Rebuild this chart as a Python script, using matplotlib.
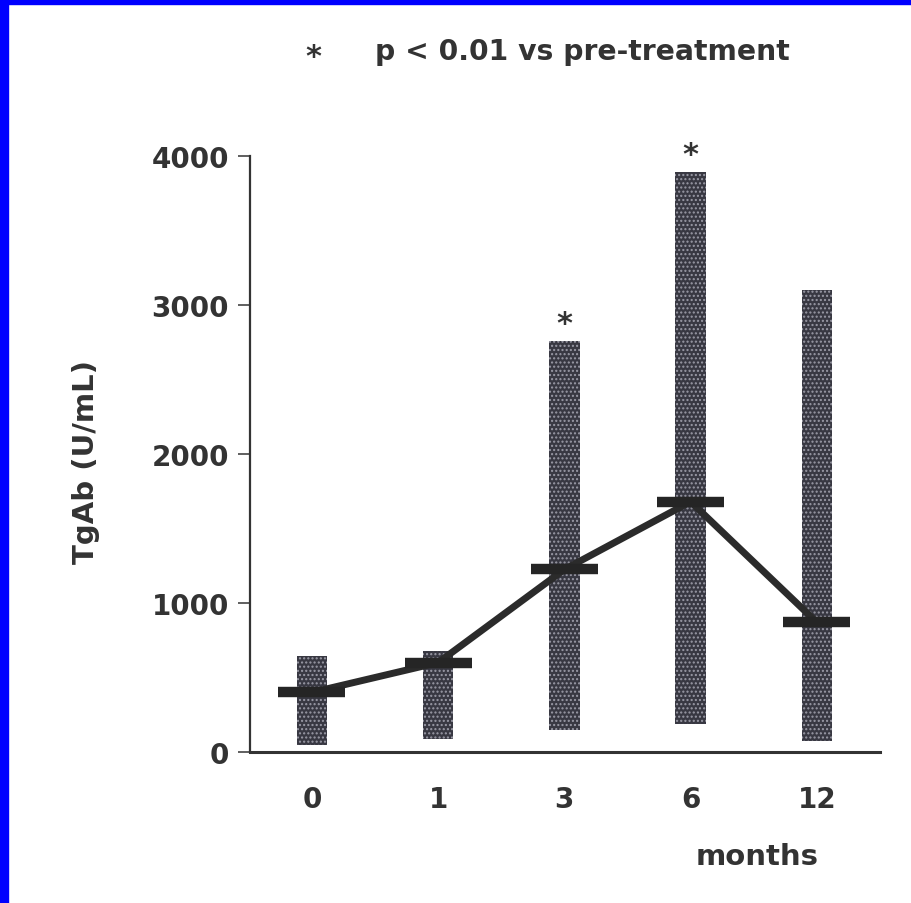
import matplotlib
matplotlib.use("Agg")
import matplotlib.pyplot as plt
from matplotlib.patches import Rectangle

# Data
months = ["0", "1", "3", "6", "12"]
range_low = [50, 85, 150, 185, 75]
range_high = [645, 680, 2760, 3890, 3100]
median = [400, 600, 1225, 1680, 870]
significant = [False, False, True, True, False]
y_ticks = [0, 1000, 2000, 3000, 4000]

W, H = 912, 904
plt.rcParams['font.family'] = ['DejaVu Sans']
plt.rcParams['hatch.linewidth'] = 1.0
fig = plt.figure(figsize=(W / 100, H / 100), dpi=100)
fig.patch.set_facecolor('white')

ax = fig.add_axes([250 / W, (H - 753) / H, (880 - 250) / W, (753 - 157) / H])
ax.set_facecolor('none')

x = list(range(len(months)))
heights = [h - l for h, l in zip(range_high, range_low)]
ax.bar(x, heights, bottom=range_low, width=0.24, color='#383842',
       edgecolor='#9a9aa6', linewidth=0, hatch='....', zorder=2)

# median ticks
for xi, m in zip(x, median):
    ax.plot([xi - 0.265, xi + 0.265], [m, m], color='#252525', lw=7.5,
            solid_capstyle='butt', zorder=4)
ax.plot(x, median, color='#2b2b2b', lw=5, zorder=3, solid_joinstyle='round')

for xi, hi, s in zip(x, range_high, significant):
    if s:
        ax.text(xi, hi + 60, '*', ha='center', va='baseline', fontsize=22,
                fontweight='bold', color='#333333', clip_on=False)

ax.set_xlim(-0.49, 4.5)
ax.set_ylim(0, 4000)
ax.set_xticks(x)
ax.set_xticklabels(months)
ax.set_yticks(y_ticks)
ax.set_yticklabels([str(t) for t in y_ticks])
ax.tick_params(axis='x', length=0, pad=24, labelsize=20, labelcolor='#333333')
ax.tick_params(axis='y', length=9, width=1.2, pad=6, labelsize=20,
               labelcolor='#333333', color='#444444')
for lab in ax.get_xticklabels() + ax.get_yticklabels():
    lab.set_fontweight('bold')
ax.spines['top'].set_visible(False)
ax.spines['right'].set_visible(False)
ax.spines['left'].set_color('#333333')
ax.spines['bottom'].set_color('#333333')
ax.spines['left'].set_linewidth(1.6)
ax.spines['bottom'].set_linewidth(2.2)

ax.set_ylabel('TgAb (U/mL)', fontsize=21, fontweight='bold', color='#333333')
ax.yaxis.set_label_coords(-0.238, 0.488)

fig.text(757 / W, 1 - 857 / H, 'months', ha='center', va='center',
         fontsize=21, fontweight='bold', color='#333333')
fig.text(313 / W, 1 - 66 / H, '*', ha='center', va='baseline', fontsize=22,
         fontweight='bold', color='#333333')
fig.text(375 / W, 1 - 52 / H, 'p < 0.01 vs pre-treatment', ha='left',
         va='center', fontsize=20.3, fontweight='bold', color='#333333')

# blue border
fig.patches.append(Rectangle((0, 0), 8 / W, 1, transform=fig.transFigure,
                             color='#0000ff', zorder=10))
fig.patches.append(Rectangle((0, 1 - 5 / H), 1, 5 / H, transform=fig.transFigure,
                             color='#0000ff', zorder=10))

fig.savefig('out.png', dpi=100, facecolor='white')
